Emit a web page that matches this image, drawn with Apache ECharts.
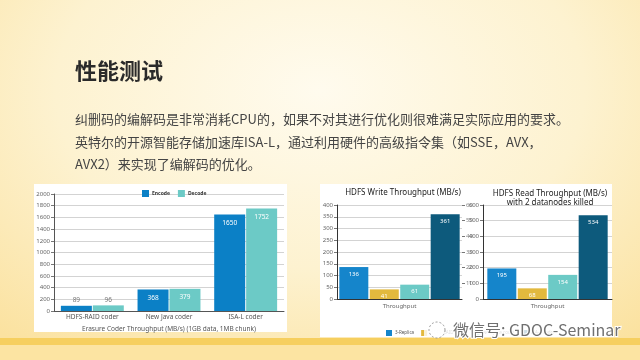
<!DOCTYPE html>
<html>
<head>
<meta charset="utf-8">
<script src="https://cdn.jsdelivr.net/npm/echarts@6.0.0/dist/echarts.min.js"></script>
<style>
    html, body { margin: 0; padding: 0; }
    body {
        width: 640px; height: 360px; overflow: hidden;
        background: radial-gradient(ellipse 75% 90% at 50% 25%, #fffbee 0%, #fdf2d0 55%, #fbe2a0 100%);
    }
    #chart { width: 640px; height: 360px; }
</style>
</head>
<body>
<div id="chart"></div>
<script>
    // 左图：编解码吞吐
    var coderNames = ['HDFS-RAID coder', 'New Java coder', 'ISA-L coder'];
    var encodeValues = [89, 368, 1650];
    var decodeValues = [96, 379, 1752];

    // 右图：HDFS 读写吞吐
    var throughputCategory = ['Throughput'];
    var seriesNames = ['3-Replica', 'HDFS-RAID coder', 'New Java coder', 'ISA-L coder'];
    var writeValues = [136, 41, 61, 361];
    var readValues = [195, 68, 154, 534];
    var seriesColors = ['#1585cb', '#e2b93e', '#6ccac6', '#0d5a7c'];

    var FONT = '"Noto Sans", "Noto Sans CJK SC", sans-serif';
    var CJK = '"Noto Sans CJK SC", sans-serif';

    var myChart = echarts.init(document.getElementById('chart'));

    function coderData(values) {
        return values.map(function (v) {
            var inside = v > 200;
            return {
                value: v,
                label: {
                    position: inside ? 'insideTop' : 'top',
                    color: inside ? '#fff' : '#777',
                    distance: inside ? 5 : 2
                }
            };
        });
    }

    function throughputSeries(values, axis) {
        return values.map(function (v, i) {
            return {
                name: seriesNames[i],
                type: 'bar',
                xAxisIndex: axis.x,
                yAxisIndex: axis.y,
                barWidth: 29,
                barGap: '5%',
                itemStyle: { color: seriesColors[i] },
                label: {
                    show: true, position: 'insideTop', distance: 4,
                    color: '#fff', fontSize: 6, fontFamily: FONT
                },
                data: [v]
            };
        });
    }

    var plain = function (v) { return String(v); };
    var axisLabelStyle = { fontSize: 6, color: '#666', fontFamily: FONT, margin: 4, formatter: plain };

    var option = {
        backgroundColor: 'transparent',
        animation: false,
        title: [
            {
                text: 'HDFS Write Throughput (MB/s)',
                left: 398, top: 184, textAlign: 'center',
                textStyle: { fontSize: 8, fontWeight: 'normal', color: '#222', fontFamily: FONT }
            },
            {
                text: 'HDFS Read Throughput (MB/s)\nwith 2 datanodes killed',
                left: 545, top: 184, textAlign: 'center',
                textStyle: { fontSize: 8, fontWeight: 'normal', color: '#222', lineHeight: 9, fontFamily: FONT }
            }
        ],
        legend: [
            {
                data: ['Encode', 'Decode'],
                left: 137, top: 185,
                itemWidth: 7, itemHeight: 7, itemGap: 8,
                icon: 'rect',
                textStyle: { fontSize: 5, fontWeight: 'bold', color: '#333', padding: [0, 0, 0, -2], fontFamily: FONT }
            },
            {
                data: seriesNames,
                left: 381, top: 325,
                itemWidth: 6, itemHeight: 6, itemGap: 7,
                icon: 'rect',
                textStyle: { fontSize: 4.5, color: '#555', padding: [0, 0, 0, -2], fontFamily: FONT }
            }
        ],
        grid: [
            { left: 54, right: 356, top: 194, bottom: 49 },
            { left: 337, right: 178, top: 205, bottom: 61 },
            { left: 483, right: 28, top: 205, bottom: 61 }
        ],
        xAxis: [
            {
                type: 'category', gridIndex: 0, data: coderNames,
                axisLine: { lineStyle: { color: '#555' } },
                axisTick: { length: 10, lineStyle: { color: '#555' } },
                axisLabel: { fontSize: 6.5, color: '#555', margin: 3, fontFamily: FONT },
                name: 'Erasure Coder Throughput (MB/s) (1GB data, 1MB chunk)',
                nameLocation: 'middle', nameGap: 15,
                nameTextStyle: { fontSize: 6.5, color: '#555', fontFamily: FONT }
            },
            {
                type: 'category', gridIndex: 1, data: throughputCategory,
                axisLine: { lineStyle: { color: '#333' } },
                axisTick: { show: false },
                axisLabel: { fontSize: 6, color: '#666', margin: 4, fontFamily: FONT }
            },
            {
                type: 'category', gridIndex: 2, data: throughputCategory,
                axisLine: { lineStyle: { color: '#333' } },
                axisTick: { show: false },
                axisLabel: { fontSize: 6, color: '#666', margin: 4, fontFamily: FONT }
            }
        ],
        yAxis: [
            {
                type: 'value', gridIndex: 0, min: 0, max: 2000, interval: 200,
                axisLine: { show: true, lineStyle: { color: '#555' } },
                axisTick: { show: true, length: 3, lineStyle: { color: '#777' } },
                splitLine: { lineStyle: { color: '#c8c8c8', width: 0.8 } },
                axisLabel: axisLabelStyle
            },
            {
                type: 'value', gridIndex: 1, min: 0, max: 400, interval: 50,
                axisLine: { show: true, lineStyle: { color: '#333' } },
                axisTick: { show: true, length: 3, lineStyle: { color: '#777' } },
                splitLine: { lineStyle: { color: '#c8c8c8', width: 0.8 } },
                axisLabel: axisLabelStyle
            },
            {
                type: 'value', gridIndex: 1, position: 'right', min: 0, max: 60, interval: 10,
                axisLine: { show: false },
                axisTick: { show: true, length: 3, lineStyle: { color: '#777' } },
                splitLine: { show: false },
                axisLabel: Object.assign({}, axisLabelStyle, { color: '#888', showMinLabel: false })
            },
            {
                type: 'value', gridIndex: 2, min: 0, max: 600, interval: 100,
                axisLine: { show: true, lineStyle: { color: '#333' } },
                axisTick: { show: true, length: 3, lineStyle: { color: '#777' } },
                splitLine: { lineStyle: { color: '#c8c8c8', width: 0.8 } },
                axisLabel: axisLabelStyle
            }
        ],
        series: [
            {
                name: 'Encode', type: 'bar', xAxisIndex: 0, yAxisIndex: 0,
                barWidth: 31, barGap: '3%',
                itemStyle: { color: '#0b80c6' },
                label: { show: true, fontSize: 6.5, fontFamily: FONT },
                data: coderData(encodeValues)
            },
            {
                name: 'Decode', type: 'bar', xAxisIndex: 0, yAxisIndex: 0,
                barWidth: 31, barGap: '3%',
                itemStyle: { color: '#6ccac6' },
                label: { show: true, fontSize: 6.5, fontFamily: FONT },
                data: coderData(decodeValues)
            }
        ]
            .concat(throughputSeries(writeValues, { x: 1, y: 1 }))
            .concat(throughputSeries(readValues, { x: 2, y: 3 })),
        graphic: [
            // 底部黄色条
            { type: 'rect', z: -20, shape: { x: 0, y: 338, width: 640, height: 7 }, style: { fill: '#f6cf5f' } },
            { type: 'rect', z: -20, shape: { x: 0, y: 345, width: 640, height: 15 }, style: { fill: '#fce4a2' } },
            // 图表白底
            { type: 'rect', z: -10, shape: { x: 34, y: 184, width: 253, height: 148 }, style: { fill: '#ffffff' } },
            { type: 'rect', z: -10, shape: { x: 320, y: 184, width: 292, height: 153 }, style: { fill: '#ffffff' } },
            // 标题和正文
            {
                type: 'text', left: 75, top: 60, z: 10,
                style: { text: '性能测试', fill: '#2a2a2a', font: 'bold 22px ' + CJK }
            },
            {
                type: 'text', left: 75, top: 108, z: 10,
                style: {
                    text: '纠删码的编解码是非常消耗CPU的，如果不对其进行优化则很难满足实际应用的要求。\n' +
                          '英特尔的开源智能存储加速库ISA-L，通过利用硬件的高级指令集（如SSE，AVX，\n' +
                          'AVX2）来实现了编解码的优化。',
                    fill: '#444', font: '13px ' + CJK, lineHeight: 22.5
                }
            },
            // 水印
            { type: 'rect', z: 50, shape: { x: 424, y: 321, width: 188, height: 16 }, style: { fill: 'rgba(255,255,255,0.8)' } },
            {
                type: 'circle', z: 60, shape: { cx: 437, cy: 330, r: 8 },
                style: { fill: 'rgba(255,255,255,0.9)', stroke: '#999', lineWidth: 1, lineDash: [2, 2] }
            },
            {
                type: 'text', left: 452, top: 321, z: 60,
                style: {
                    text: '微信号: GDOC-Seminar', fill: '#707070', font: '16px ' + CJK,
                    stroke: '#ffffff', lineWidth: 2
                }
            }
        ]
    };

    myChart.setOption(option);
</script>
</body>
</html>
